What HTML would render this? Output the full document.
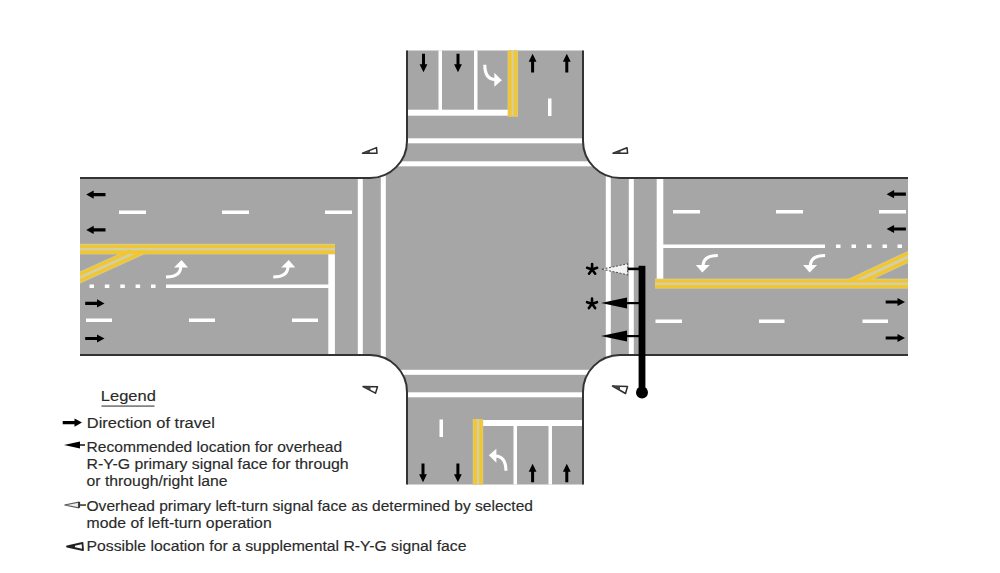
<!DOCTYPE html>
<html><head><meta charset="utf-8">
<style>
html,body{margin:0;padding:0;background:#fff;}
body{width:1000px;height:573px;overflow:hidden;position:relative;}
svg{position:absolute;left:0;top:0;}
.t{font-family:"Liberation Sans",sans-serif;font-size:15.4px;fill:#2a2a2a;stroke:#2a2a2a;stroke-width:0.15px;}
</style></head><body>
<svg width="1000" height="573" viewBox="0 0 1000 573">
<defs>
  <path id="arR" d="M0 0 L-7.5 -4.1 L-7.5 -1.6 L-19.3 -1.6 L-19.3 1.6 L-7.5 1.6 L-7.5 4.1 Z"/>
  <path id="arV" d="M0 0 L-3.9 -8 L-1.5 -8 L-1.5 -18.6 L1.5 -18.6 L1.5 -8 L3.9 -8 Z"/>
  <g id="turn">
    <path d="M0 0 Q14.5 0 14.8 -10.5" fill="none" stroke="#fff" stroke-width="3.1"/>
    <path d="M8 -9.5 L15.5 -17 L22 -9.5 Z" fill="#fff"/>
  </g>
  <clipPath id="road">
    <path id="roadp" d="M80 178 L370 178 A37 37 0 0 0 407 141 L407 50.5 L583 50.5 L583 141 A37 37 0 0 0 620 178 L908 178 L908 355 L620 355 A37 37 0 0 0 583 392 L583 484.5 L407 484.5 L407 392 A37 37 0 0 0 370 355 L80 355 Z"/>
  </clipPath>
</defs>
<!-- road surface -->
<use href="#roadp" fill="#a6a6a6"/>
<g clip-path="url(#road)">
<!-- white markings -->
<g fill="#fff">
  <!-- crosswalks -->
  <rect x="357.8" y="170" width="5" height="192"/>
  <rect x="380.8" y="170" width="5" height="192"/>
  <rect x="605.8" y="170" width="5" height="192"/>
  <rect x="628.8" y="170" width="5" height="192"/>
  <rect x="390" y="138.3" width="210" height="5"/>
  <rect x="390" y="161.3" width="210" height="5"/>
  <rect x="390" y="369.8" width="210" height="5"/>
  <rect x="390" y="392.3" width="210" height="5"/>
  <!-- stop bars -->
  <rect x="405" y="109.7" width="104" height="6"/>
  <rect x="328.3" y="252" width="6.6" height="105"/>
  <rect x="656.7" y="176" width="6.6" height="103.5"/>
  <rect x="481" y="420" width="104" height="6"/>
  <!-- north lane lines -->
  <rect x="438.5" y="48" width="3.5" height="64"/>
  <rect x="474" y="48" width="3.5" height="64"/>
  <rect x="548" y="98.5" width="3.5" height="17.5"/>
  <!-- south lane lines -->
  <rect x="513.5" y="423" width="3.5" height="64"/>
  <rect x="548.5" y="423" width="3.5" height="64"/>
  <rect x="439.5" y="419.5" width="3.5" height="17.5"/>
  <!-- west dashes -->
  <rect x="119" y="210.5" width="27" height="3.5"/>
  <rect x="222" y="210.5" width="27" height="3.5"/>
  <rect x="325" y="210.5" width="27" height="3.5"/>
  <rect x="86" y="318.5" width="26" height="3.5"/>
  <rect x="189" y="318.5" width="26" height="3.5"/>
  <rect x="292" y="318.5" width="26" height="3.5"/>
  <rect x="166" y="284.5" width="165" height="3.5"/>
  <rect x="89.5" y="284.5" width="4.5" height="3.5"/>
  <rect x="104.8" y="284.5" width="4.5" height="3.5"/>
  <rect x="120.3" y="284.5" width="4.5" height="3.5"/>
  <rect x="135.6" y="284.5" width="4.5" height="3.5"/>
  <rect x="151" y="284.5" width="4.5" height="3.5"/>
  <!-- east dashes -->
  <rect x="673" y="210" width="27" height="3.5"/>
  <rect x="776" y="210" width="27" height="3.5"/>
  <rect x="879" y="210" width="27" height="3.5"/>
  <rect x="655.5" y="319.5" width="26.5" height="3.5"/>
  <rect x="759" y="319.5" width="25.5" height="3.5"/>
  <rect x="862.5" y="319.5" width="25.5" height="3.5"/>
  <rect x="660" y="244.5" width="165" height="3.5"/>
  <rect x="836" y="244.5" width="4.5" height="3.5"/>
  <rect x="851.5" y="244.5" width="4.5" height="3.5"/>
  <rect x="867" y="244.5" width="4.5" height="3.5"/>
  <rect x="882.5" y="244.5" width="4.5" height="3.5"/>
  <rect x="897.5" y="244.5" width="4.5" height="3.5"/>
</g>
<!-- yellow -->
<g fill="#d3cfa6">
  <rect x="80" y="243.8" width="255" height="10.6"/>
  <rect x="655" y="278.6" width="253" height="10"/>
  <rect x="507.6" y="48" width="10.4" height="68.6"/>
  <rect x="472.8" y="419" width="10.4" height="68"/>
</g>
<g stroke="#d3cfa6" stroke-width="4.6" fill="none">
  <path d="M78 275 L131 251"/>
  <path d="M78 281.8 L146 251"/>
  <path d="M910 252.5 L849 281"/>
  <path d="M910 259.5 L864 281"/>
  <path d="M78 278.4 L138.5 251" stroke-width="3.2"/>
  <path d="M910 256 L856.5 281" stroke-width="3.2"/>
</g>
<g stroke="#f2c630" stroke-width="3.4" fill="none">
  <path d="M78 275 L131 251"/>
  <path d="M78 281.8 L146 251"/>
  <path d="M910 252.5 L849 281"/>
  <path d="M910 259.5 L864 281"/>
</g>
<g fill="#f2c630">
  <rect x="80" y="244.8" width="255" height="3.2"/>
  <rect x="80" y="250.4" width="255" height="3.6"/>
  <rect x="655" y="279.4" width="253" height="3.1"/>
  <rect x="655" y="285" width="253" height="3.2"/>
  <rect x="508.2" y="48" width="3.4" height="68.6"/>
  <rect x="513.8" y="48" width="3.6" height="68.6"/>
  <rect x="473.4" y="419" width="3.4" height="68"/>
  <rect x="479.2" y="419" width="3.4" height="68"/>
</g>
</g>
<!-- curb lines -->
<g fill="none" stroke="#333" stroke-width="2">
<path d="M80 178 L370 178 A37 37 0 0 0 407 141 L407 50.5"/>
<path d="M583 50.5 L583 141 A37 37 0 0 0 620 178 L908 178"/>
<path d="M908 355 L620 355 A37 37 0 0 0 583 392 L583 484.5"/>
<path d="M407 484.5 L407 392 A37 37 0 0 0 370 355 L80 355"/>
</g>
<!-- turn arrows -->
<use href="#turn" transform="translate(166,277)"/>
<use href="#turn" transform="translate(273.2,277)"/>
<use href="#turn" transform="translate(717.8,255.5) rotate(180)"/>
<use href="#turn" transform="translate(825.1,255.5) rotate(180)"/>
<use href="#turn" transform="translate(484.8,64.8) rotate(90)"/>
<use href="#turn" transform="translate(505.9,470.8) rotate(-90)"/>
<!-- black arrows -->
<g fill="#000">
  <use href="#arR" transform="translate(86.2,194.6) rotate(180)"/>
  <use href="#arR" transform="translate(86.2,229.9) rotate(180)"/>
  <use href="#arR" transform="translate(104.5,303.4)"/>
  <use href="#arR" transform="translate(104.5,338.5)"/>
  <use href="#arR" transform="translate(886.6,194.2) rotate(180)"/>
  <use href="#arR" transform="translate(886.6,229) rotate(180)"/>
  <use href="#arR" transform="translate(905,302)"/>
  <use href="#arR" transform="translate(905,338)"/>
  <use href="#arV" transform="translate(423.5,72.3)"/>
  <use href="#arV" transform="translate(458,72.3)"/>
  <use href="#arV" transform="translate(532.6,53.8) rotate(180)"/>
  <use href="#arV" transform="translate(566.8,53.8) rotate(180)"/>
  <use href="#arV" transform="translate(423,482.2)"/>
  <use href="#arV" transform="translate(457.9,482.2)"/>
  <use href="#arV" transform="translate(532.6,463.7) rotate(180)"/>
  <use href="#arV" transform="translate(566.8,463.7) rotate(180)"/>
</g>
<!-- signals -->
<g fill="#000">
  <rect x="638.6" y="265.8" width="6.8" height="127"/>
  <circle cx="642" cy="392.5" r="6"/>
  <path d="M601 303 L627 297.5 L627 308.5 Z"/>
  <rect x="626" y="302" width="13" height="2.2"/>
  <path d="M601 336 L627 330.5 L627 341.5 Z"/>
  <rect x="626" y="335" width="13" height="2.2"/>
  <rect x="627" y="267.6" width="12" height="2.6"/>
</g>
<path d="M602 269.2 L627.5 263.8 L627.5 274.8 Z" fill="#f2f2f2" stroke="#555" stroke-width="1.1" stroke-dasharray="2 1.6"/>
<g fill="none" stroke="#000" stroke-width="2.6" stroke-linecap="round">
<path transform="translate(592.1,269.4)" d="M0 0 L0 -5.3 M0 0 L5 -1.6 M0 0 L3.1 4.3 M0 0 L-3.1 4.3 M0 0 L-5 -1.6"/>
<path transform="translate(592,303.8)" d="M0 0 L0 -5.3 M0 0 L5 -1.6 M0 0 L3.1 4.3 M0 0 L-3.1 4.3 M0 0 L-5 -1.6"/>
</g>
<!-- corner supplemental signals -->
<g fill="none" stroke="#2e2e2e" stroke-width="1.5" stroke-linejoin="round">
  <path d="M362.5 153.3 L376.5 147.6 L377 153.3 Z"/>
  <path d="M613 153.2 L627 147.7 L627.6 153.2 Z"/>
  <path d="M363 386.6 L377.5 386.8 L375.5 393.2 Z"/>
  <path d="M612.5 386 L627.5 386.5 L625.5 393.5 Z"/>
</g>
<g fill="#444">
  <path d="M362.5 153.3 L370 150.2 L370 153.3 Z"/>
  <path d="M613 153.2 L620.5 150.3 L620.5 153.2 Z"/>
  <path d="M363 386.6 L370.5 386.7 L370.5 390.3 Z"/>
  <path d="M612.5 386 L620 386.2 L620 389.8 Z"/>
</g>
<!-- legend -->
<g class="t">
<text x="100.8" y="400.5" textLength="55" lengthAdjust="spacingAndGlyphs">Legend</text>
<text x="86.8" y="427.5" textLength="128" lengthAdjust="spacingAndGlyphs">Direction of travel</text>
<text x="86.6" y="452" textLength="255.6" lengthAdjust="spacingAndGlyphs">Recommended location for overhead</text>
<text x="86.6" y="469" textLength="262.1" lengthAdjust="spacingAndGlyphs">R-Y-G primary signal face for through</text>
<text x="86.6" y="485.5" textLength="141" lengthAdjust="spacingAndGlyphs">or through/right lane</text>
<text x="86.5" y="511.2" textLength="446.5" lengthAdjust="spacingAndGlyphs">Overhead primary left-turn signal face as determined by selected</text>
<text x="86.5" y="527.5" textLength="185.2" lengthAdjust="spacingAndGlyphs">mode of left-turn operation</text>
<text x="86.5" y="551.1" textLength="380" lengthAdjust="spacingAndGlyphs">Possible location for a supplemental R-Y-G signal face</text>
</g>
<rect x="101.5" y="405.3" width="53" height="1.6" fill="#777"/>
<g fill="#000">
  <use href="#arR" transform="translate(82,422.6)"/>
  <path d="M64 445 L80 441.5 L80 448.5 Z"/>
  <rect x="79" y="444.3" width="6" height="1.4"/>
</g>
<path d="M64.5 505 L78.5 502.2 L78.5 507.8 Z" fill="#eee" stroke="#555" stroke-width="1.1"/>
<rect x="78.5" y="501.8" width="1.6" height="6" fill="#333"/>
<rect x="79.5" y="504.3" width="6.5" height="1.5" fill="#333"/>
<path d="M67 546.5 L82.5 543 L83 550 Z" fill="#fff" stroke="#222" stroke-width="1.8" stroke-linejoin="round"/>
<path d="M67 546.5 L75 544.8 L75 548.3 Z" fill="#222"/>
</svg>
</body></html>
